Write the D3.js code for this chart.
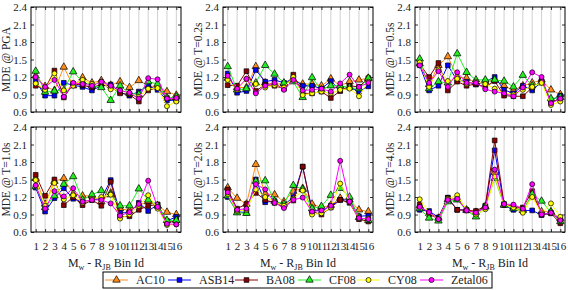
<!DOCTYPE html>
<html>
<head>
<meta charset="utf-8">
<script src="https://cdn.jsdelivr.net/npm/d3@7"></script>
<style>
  body { margin: 0; background: #fff; }
  text { font-family: "Liberation Serif", "Times New Roman", serif; fill: #222; }
</style>
</head>
<body>
<div id="chart"></div>
<script>
// bins on the x axis, y ticks, series
const binIds = [1, 2, 3, 4, 5, 6, 7, 8, 9, 10, 11, 12, 13, 14, 15, 16];
const yTicks = [0.6, 0.9, 1.2, 1.5, 1.8, 2.1, 2.4];
const seriesNames = ["AC10", "ASB14", "BA08", "CF08", "CY08", "Zetal06"];
const panelTitles = ["MDE @ PGA", "MDE @ T=0.2s", "MDE @ T=0.5s", "MDE @ T=1.0s", "MDE @ T=2.0s", "MDE @ T=4.0s"];

// values per panel, one row per series (same order as seriesNames)
const mdePGA = [
  [1.22, 1.04, 0.97, 1.37, 1.05, 1.19, 1.10, 1.14, 1.06, 1.12, 1.02, 1.14, 1.05, 1.03, 0.95, 0.89],
  [1.13, 0.88, 0.88, 1.10, 1.06, 1.03, 0.97, 1.05, 1.07, 0.94, 0.88, 0.95, 1.05, 0.98, 0.80, 0.80],
  [1.05, 1.00, 1.31, 0.85, 1.08, 1.06, 1.02, 1.07, 1.03, 0.92, 0.90, 0.78, 0.97, 1.02, 0.84, 0.80],
  [1.30, 0.94, 0.96, 0.98, 1.29, 1.12, 1.05, 1.02, 0.80, 1.05, 0.92, 0.90, 1.12, 1.08, 0.84, 0.86],
  [1.09, 0.98, 1.26, 0.97, 1.05, 1.15, 1.08, 1.12, 0.99, 0.97, 0.92, 0.86, 1.00, 1.01, 0.70, 0.78],
  [1.20, 1.03, 1.15, 0.86, 1.10, 1.08, 1.05, 1.12, 1.05, 0.97, 0.93, 0.83, 1.18, 1.16, 0.83, 0.84]
];
const mdeT02 = [
  [1.18, 1.02, 1.02, 1.38, 1.10, 1.08, 1.08, 1.15, 1.08, 1.08, 1.05, 1.17, 1.05, 1.12, 1.15, 1.18],
  [1.26, 0.93, 0.96, 1.32, 1.12, 1.15, 1.10, 1.17, 1.05, 1.05, 1.00, 1.13, 0.97, 1.03, 0.95, 1.04],
  [1.06, 1.05, 1.30, 0.96, 1.07, 1.05, 1.00, 1.24, 0.92, 0.92, 0.95, 0.84, 0.96, 1.05, 1.03, 1.18],
  [1.38, 0.98, 1.00, 1.10, 1.40, 1.25, 1.10, 1.12, 0.85, 1.19, 0.98, 1.05, 1.05, 1.02, 1.00, 1.18],
  [1.15, 0.98, 1.16, 1.08, 1.02, 1.06, 1.02, 1.20, 0.89, 0.92, 0.95, 0.92, 0.98, 1.00, 0.87, 1.12],
  [1.22, 1.00, 1.17, 0.92, 1.05, 1.10, 0.98, 1.15, 0.97, 0.98, 1.00, 0.95, 1.09, 1.24, 1.03, 1.10]
];
const mdeT05 = [
  [1.43, 1.07, 1.40, 1.55, 1.20, 1.18, 1.10, 1.12, 1.15, 1.05, 0.97, 1.05, 1.10, 1.15, 0.98, 0.90],
  [1.40, 0.97, 1.05, 1.40, 1.14, 1.12, 1.07, 1.12, 1.20, 0.98, 0.92, 1.05, 0.97, 1.12, 0.80, 0.88],
  [1.42, 1.20, 1.44, 0.97, 1.12, 1.05, 1.08, 1.03, 1.13, 0.88, 0.87, 0.87, 1.02, 1.13, 0.77, 0.82],
  [1.51, 1.00, 1.12, 1.10, 1.60, 1.28, 1.15, 1.15, 1.15, 1.13, 1.03, 1.23, 1.05, 1.10, 0.83, 0.85],
  [1.45, 1.03, 1.33, 1.13, 1.17, 1.08, 1.12, 1.08, 1.00, 0.92, 0.90, 0.98, 1.03, 1.10, 0.72, 0.78],
  [1.40, 1.10, 1.30, 1.03, 1.28, 1.10, 1.10, 0.99, 0.95, 0.92, 0.87, 1.02, 1.28, 1.20, 0.75, 0.83]
];
const mdeT10 = [
  [1.52, 1.08, 1.47, 1.52, 1.25, 1.22, 1.22, 1.12, 1.27, 1.00, 0.97, 1.06, 1.12, 1.05, 0.94, 0.90],
  [1.36, 0.95, 1.18, 1.35, 1.17, 1.12, 1.15, 1.17, 1.49, 0.93, 0.93, 1.10, 0.96, 1.07, 0.79, 0.86],
  [1.58, 1.22, 1.50, 1.06, 1.20, 1.06, 1.15, 1.05, 1.46, 0.86, 0.87, 0.98, 1.05, 1.07, 0.76, 0.79],
  [1.38, 1.02, 1.22, 1.42, 1.55, 1.15, 1.24, 1.31, 1.24, 1.05, 1.05, 1.34, 1.15, 1.05, 0.80, 0.80],
  [1.49, 1.05, 1.44, 1.16, 1.23, 1.10, 1.17, 1.20, 1.24, 0.83, 0.90, 1.05, 1.23, 1.00, 0.72, 0.73],
  [1.40, 1.00, 1.30, 1.21, 1.35, 1.12, 1.15, 1.15, 1.09, 0.88, 0.94, 1.08, 1.48, 1.03, 0.74, 0.73]
];
const mdeT20 = [
  [1.36, 1.18, 1.08, 1.76, 1.25, 1.24, 1.12, 1.30, 1.35, 1.08, 1.02, 1.06, 1.18, 1.15, 0.98, 0.95],
  [1.20, 0.95, 0.93, 1.50, 1.11, 1.13, 1.06, 1.20, 1.72, 0.98, 0.96, 1.05, 1.15, 1.15, 0.87, 0.88],
  [1.33, 1.00, 1.08, 1.27, 1.15, 1.10, 1.05, 1.14, 1.72, 0.95, 0.90, 1.02, 1.15, 1.10, 0.82, 0.78],
  [1.22, 0.93, 0.92, 1.47, 1.48, 1.13, 1.08, 1.40, 1.33, 1.00, 1.04, 1.23, 1.35, 1.20, 0.85, 0.80],
  [1.25, 0.96, 0.98, 1.33, 1.20, 1.12, 1.05, 1.17, 1.31, 0.90, 0.92, 1.02, 1.43, 1.12, 0.83, 0.83],
  [1.28, 0.98, 1.00, 1.42, 1.33, 1.10, 1.01, 1.15, 1.19, 0.95, 0.97, 1.05, 1.82, 1.12, 0.84, 0.82]
];
const mdeT40 = [
  [1.05, 0.92, 0.84, 1.16, 1.18, 0.98, 0.94, 1.04, 1.62, 1.07, 1.03, 0.99, 1.22, 0.95, 0.95, 0.83],
  [0.98, 0.96, 0.85, 1.19, 0.98, 0.98, 0.92, 1.04, 2.00, 1.06, 0.98, 0.97, 0.97, 0.89, 0.93, 0.81],
  [1.07, 0.90, 0.83, 1.18, 0.98, 0.97, 0.96, 1.05, 2.17, 1.08, 1.03, 1.02, 1.30, 0.90, 0.92, 0.75],
  [1.00, 0.84, 0.79, 1.12, 1.15, 0.97, 0.86, 1.03, 1.52, 1.06, 1.00, 0.97, 1.25, 1.13, 0.94, 0.78],
  [1.16, 0.93, 0.82, 1.17, 1.23, 0.98, 0.90, 0.99, 1.55, 1.07, 1.02, 0.93, 1.20, 0.92, 1.09, 0.86],
  [1.03, 0.94, 0.82, 1.15, 1.17, 0.97, 0.93, 1.02, 1.67, 1.08, 1.07, 1.00, 1.42, 0.90, 0.93, 0.80]
];
const panelValues = [mdePGA, mdeT02, mdeT05, mdeT10, mdeT20, mdeT40];

const seriesColors = ["#ff8c1a", "#0000ff", "#8b0000", "#22ee22", "#ffff00", "#ff00ff"];
const seriesMarkers = ["triangle", "square", "square", "triangle", "circle", "circle"];

const svgW = 568;
const svgH = 290;
const panelLefts = [31, 223, 415];
const panelTops = [7, 127];
const plotW = 150;
const plotH = 105;

const svg = d3.select("#chart")
  .append("svg")
  .attr("width", svgW)
  .attr("height", svgH);

svg.append("rect").attr("width", svgW).attr("height", svgH).attr("fill", "#fff");

const xScale = d3.scaleLinear().domain([0.5, 16.5]).range([0, plotW]);
const yScale = d3.scaleLinear().domain([0.6, 2.4]).range([plotH, 0]);

function drawMarker(g, type, x, y, color) {
  if (type === "circle") {
    g.append("circle").attr("cx", x).attr("cy", y).attr("r", 2.5)
      .attr("fill", color).attr("stroke", "#000").attr("stroke-width", 0.7);
  } else {
    const sym = type === "triangle" ? d3.symbolTriangle : d3.symbolSquare;
    const size = type === "triangle" ? 24 : 22;
    g.append("path")
      .attr("d", d3.symbol(sym, size)())
      .attr("transform", `translate(${x},${y})`)
      .attr("fill", color).attr("stroke", "#000").attr("stroke-width", 0.7);
  }
}

panelValues.forEach((values, p) => {
  const col = p % 3;
  const row = Math.floor(p / 3);
  const g = svg.append("g")
    .attr("transform", `translate(${panelLefts[col]},${panelTops[row]})`);

  // vertical grid
  g.selectAll("line.grid")
    .data(binIds)
    .enter()
    .append("line")
    .attr("class", "grid")
    .attr("x1", d => xScale(d)).attr("x2", d => xScale(d))
    .attr("y1", 0).attr("y2", plotH)
    .attr("stroke", "#d0d0d0").attr("stroke-width", 1);

  // axes with inward ticks
  const yAxisL = d3.axisLeft(yScale).tickValues(yTicks).tickFormat(d3.format(".1f")).tickSizeInner(-3).tickSizeOuter(0).tickPadding(4);
  const yAxisR = d3.axisRight(yScale).tickValues(yTicks).tickFormat("").tickSizeInner(-3).tickSizeOuter(0);
  const xAxisB = d3.axisBottom(xScale).tickValues(binIds).tickFormat(row === 1 ? d3.format("d") : "").tickSizeInner(-3).tickSizeOuter(0).tickPadding(10);
  const xAxisT = d3.axisTop(xScale).tickValues(binIds).tickFormat("").tickSizeInner(-3).tickSizeOuter(0);

  const axes = [
    g.append("g").call(yAxisL),
    g.append("g").attr("transform", `translate(${plotW},0)`).call(yAxisR),
    g.append("g").attr("transform", `translate(0,${plotH})`).call(xAxisB),
    g.append("g").call(xAxisT)
  ];
  axes.forEach(a => {
    a.select(".domain").remove();
    a.selectAll(".tick line").attr("stroke", "#000").attr("stroke-width", 0.8);
    a.selectAll("text")
      .style("font-family", '"Liberation Serif", serif')
      .style("font-size", "11px")
      .attr("fill", "#222");
  });

  // frame
  g.append("rect")
    .attr("width", plotW).attr("height", plotH)
    .attr("fill", "none").attr("stroke", "#000").attr("stroke-width", 1);

  // y label
  g.append("text")
    .text(panelTitles[p])
    .attr("transform", `translate(-21,${plotH / 2}) rotate(-90)`)
    .style("text-anchor", "middle")
    .style("font-size", "11.5px");

  // x title for bottom row
  if (row === 1) {
    const t = g.append("text")
      .attr("x", plotW / 2).attr("y", plotH + 35)
      .style("text-anchor", "middle")
      .style("font-size", "12px");
    t.append("tspan").text("M");
    t.append("tspan").text("w").attr("dy", 3).style("font-size", "8px");
    t.append("tspan").text(" - R").attr("dy", -3);
    t.append("tspan").text("JB").attr("dy", 3).style("font-size", "8px");
    t.append("tspan").text(" Bin Id").attr("dy", -3);
  }

  // series
  const line = d3.line().x((d, i) => xScale(binIds[i])).y(d => yScale(d));
  values.forEach((vals, s) => {
    const sg = g.append("g");
    sg.append("path")
      .attr("d", line(vals))
      .attr("fill", "none")
      .attr("stroke", seriesColors[s])
      .attr("stroke-width", 1);
    vals.forEach((v, i) => drawMarker(sg, seriesMarkers[s], xScale(binIds[i]), yScale(v), seriesColors[s]));
  });
});

// legend
const legend = svg.append("g").attr("transform", "translate(103,272)");
legend.append("rect")
  .attr("width", 389).attr("height", 16)
  .attr("fill", "#fff").attr("stroke", "#000").attr("stroke-width", 1);

const legendX = [2, 65, 132, 195, 254, 317];
seriesNames.forEach((name, s) => {
  const lg = legend.append("g").attr("transform", `translate(${legendX[s]},8)`);
  lg.append("line").attr("x1", 0).attr("x2", 23).attr("y1", 0).attr("y2", 0)
    .attr("stroke", seriesColors[s]).attr("stroke-width", 1);
  drawMarker(lg, seriesMarkers[s], 11.5, 0, seriesColors[s]);
  lg.append("text").text(name)
    .attr("x", 31).attr("y", 4)
    .style("font-size", "12px");
});
</script>
</body>
</html>
